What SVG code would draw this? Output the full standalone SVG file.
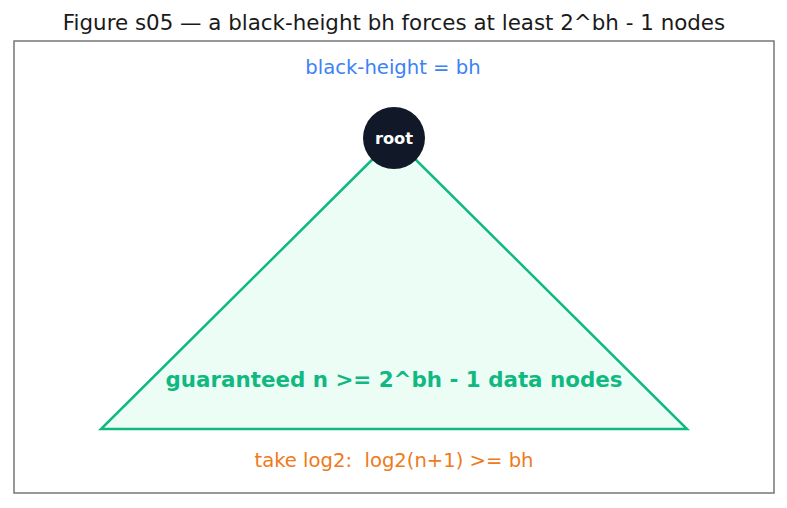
<svg xmlns="http://www.w3.org/2000/svg" width="787" height="508" viewBox="0 0 787 508">
<style>
text{font-family:"DejaVu Sans",sans-serif;text-anchor:middle;white-space:pre}
.title{font-size:21.4px;fill:#1a1a1a}
.bh{font-size:19.6px;fill:#3b82f6}
.log{font-size:19.6px;fill:#f07a1a}
.guar{font-size:21.4px;font-weight:bold;fill:#10b981}
.root{font-size:16.3px;font-weight:bold;fill:#ffffff}
</style>
<rect width="787" height="508" fill="#ffffff"/>
<text class="title" x="394" y="30">Figure s05 — a black-height bh forces at least 2^bh - 1 nodes</text>
<rect x="14" y="41" width="760" height="452" fill="none" stroke="#777777" stroke-width="1.5"/>
<text class="bh" x="393" y="74">black-height = bh</text>
<g id="tree">
<polygon points="394,138 101,429 687,429" fill="#ecfdf5" stroke="#10b981" stroke-width="2.5" stroke-linejoin="miter"/>
<text class="guar" x="394" y="387">guaranteed n &gt;= 2^bh - 1 data nodes</text>
</g>
<g id="root">
<circle cx="394" cy="138" r="31" fill="#111827"/>
<text class="root" x="394" y="144">root</text>
</g>
<text class="log" x="394" y="467" xml:space="preserve">take log2:  log2(n+1) &gt;= bh</text>
</svg>
